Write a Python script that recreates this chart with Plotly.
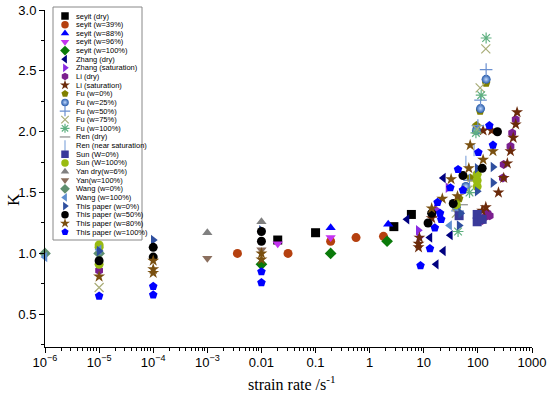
import plotly.graph_objects as go

# ---------------- data ----------------
seyit_dry_x = [0.02, 0.1, 2.8, 5.9]
seyit_dry_y = [1.11, 1.17, 1.22, 1.32]
seyit_39_x = [0.0036, 0.031, 0.19, 0.56, 1.8]
seyit_39_y = [1.00, 1.00, 1.10, 1.13, 1.14]
seyit_88_x = [0.19, 2.2]
seyit_88_y = [1.21, 1.24]
seyit_96_x = [0.02, 0.19]
seyit_96_y = [1.08, 1.13]
seyit_100_x = [0.01, 0.19, 2.1]
seyit_100_y = [0.91, 1.00, 1.10]
zhang_dry_x = [4.9, 13, 17, 23, 23, 31]
zhang_dry_y = [1.28, 1.13, 0.91, 1.02, 1.62, 1.15]
zhang_sat_x = [7.9, 8.2, 17, 28]
zhang_sat_y = [1.19, 1.13, 1.36, 1.54]
li_dry_x = [1e-5, 120, 135, 150, 165, 290, 300, 400, 430, 500]
li_dry_y = [0.86, 1.27, 1.30, 1.33, 1.31, 1.62, 1.73, 1.88, 1.99, 2.10]
li_sat_x = [8, 8, 8.3, 14, 15, 120, 125, 140, 180, 240, 300, 350, 400, 450, 500, 530]
li_sat_y = [1.05, 1.08, 1.13, 1.29, 1.33, 1.35, 2.01, 1.38, 2.01, 1.50, 1.62, 1.74, 1.84, 1.95, 2.06, 2.16]
fu_0_x = [45, 72, 94, 110, 142]
fu_0_y = [1.45, 1.62, 2.05, 2.17, 2.40]
fu_25_x = [40, 60, 94, 112, 142]
fu_25_y = [1.38, 1.55, 2.01, 2.19, 2.43]
fu_50_x = [42, 70, 100, 112, 142]
fu_50_y = [1.35, 1.60, 2.05, 2.26, 2.51]
fu_75_x = [1e-5, 40, 65, 96, 110, 140]
fu_75_y = [0.72, 1.33, 1.52, 2.02, 2.36, 2.68]
fu_100_x = [43, 70, 92, 115, 142]
fu_100_y = [1.18, 1.50, 1.99, 2.30, 2.77]
ren_dry_x = [50, 80]
ren_dry_y = [1.40, 1.60]
ren_sat_x = [60, 85]
ren_sat_y = [1.75, 1.85]
sun_0_x = [45, 97, 97, 120]
sun_0_y = [1.31, 1.26, 1.32, 1.28]
sun_100_x = [1e-5, 1e-5, 1e-5, 40, 97, 97, 97]
sun_100_y = [1.07, 1.05, 0.91, 1.40, 1.55, 1.60, 1.65]
yan_dry_x = [1e-3, 0.01]
yan_dry_y = [1.17, 1.26]
yan_100_x = [1e-3, 0.01]
yan_100_y = [0.96, 1.03]
wang_0_x = [1e-6, 1e-5]
wang_0_y = [1.00, 1.00]
wang_100_x = [1e-6, 1e-5, 30]
wang_100_y = [0.97, 1.03, 1.23]
paper_0_x = [1e-5, 1e-4, 0.01, 45, 48, 97, 97, 190, 190]
paper_0_y = [1.02, 1.11, 1.19, 1.23, 1.33, 1.51, 1.70, 1.58, 1.71]
paper_50_x = [1e-5, 1e-4, 1e-4, 0.01, 0.01, 12, 14, 35, 53, 120, 230]
paper_50_y = [0.94, 1.05, 0.97, 1.18, 1.10, 1.25, 1.33, 1.41, 1.64, 1.70, 2.00]
paper_80_x = [1e-5, 1e-4, 1e-4, 1e-4, 0.01, 0.01, 14, 22, 32, 42, 68, 72, 125, 190]
paper_80_y = [0.81, 0.94, 0.87, 0.84, 1.00, 0.95, 1.37, 1.45, 1.61, 1.47, 1.70, 1.89, 1.77, 1.84]
paper_100_x = [1e-5, 1e-4, 1e-4, 0.01, 0.01, 8.7, 13, 16, 18, 20, 21, 31, 43, 53, 102, 163, 190]
paper_100_y = [0.65, 0.73, 0.66, 0.85, 0.76, 0.90, 1.04, 1.21, 1.42, 1.33, 1.28, 1.54, 1.69, 1.52, 1.83, 2.05, 1.89]

series_names = [
    "seyit (dry)", "seyit (w=39%)", "seyit (w=88%)", "seyit (w=96%)", "seyit (w=100%)",
    "Zhang (dry)", "Zhang (saturation)", "Li (dry)", "Li (saturation)",
    "Fu (w=0%)", "Fu (w=25%)", "Fu (w=50%)", "Fu (w=75%)", "Fu (w=100%)",
    "Ren (dry)", "Ren (near saturation)", "Sun (W=0%)", "Sun (W=100%)",
    "Yan dry(w=6%)", "Yan(w=100%)", "Wang (w=0%)", "Wang (w=100%)",
    "This paper (w=0%)", "This paper (w=50%)", "This paper (w=80%)", "This paper (w=100%)",
]
series_x = [seyit_dry_x, seyit_39_x, seyit_88_x, seyit_96_x, seyit_100_x,
            zhang_dry_x, zhang_sat_x, li_dry_x, li_sat_x,
            fu_0_x, fu_25_x, fu_50_x, fu_75_x, fu_100_x,
            ren_dry_x, ren_sat_x, sun_0_x, sun_100_x,
            yan_dry_x, yan_100_x, wang_0_x, wang_100_x,
            paper_0_x, paper_50_x, paper_80_x, paper_100_x]
series_y = [seyit_dry_y, seyit_39_y, seyit_88_y, seyit_96_y, seyit_100_y,
            zhang_dry_y, zhang_sat_y, li_dry_y, li_sat_y,
            fu_0_y, fu_25_y, fu_50_y, fu_75_y, fu_100_y,
            ren_dry_y, ren_sat_y, sun_0_y, sun_100_y,
            yan_dry_y, yan_100_y, wang_0_y, wang_100_y,
            paper_0_y, paper_50_y, paper_80_y, paper_100_y]

# ---------------- styles ----------------
symbols = ["square", "circle", "triangle-up", "triangle-down", "diamond",
           "triangle-left", "triangle-right", "hexagon", "star",
           "pentagon", "circle", "cross-thin-open", "x-thin-open", "asterisk-open",
           "line-ew-open", "line-ns-open", "square", "circle",
           "triangle-up", "triangle-down", "diamond", "triangle-left",
           "triangle-right", "circle", "star", "pentagon"]
colors = ["#000000", "#B5400F", "#0000FF", "#C433F0", "#0A7A0A",
          "#000080", "#8A2BE2", "#7B1F8F", "#6B2A0A",
          "#808000", "#2458A8", "#6A8FD0", "#A9AD78", "#5FB080",
          "#8C8C8C", "#88AADD", "#3A3A9A", "#99BB11",
          "#808080", "#8B6F5E", "#5F8F6F", "#5F8FD0",
          "#2F4F9F", "#000000", "#7A5010", "#0000FF"]
open_sym = {"cross-thin-open", "x-thin-open", "asterisk-open", "line-ew-open", "line-ns-open"}

FONT = "Liberation Sans, Arial, sans-serif"
SERIF = "Liberation Serif, Times New Roman, serif"

fig = go.Figure()

def marker_for(i, size):
    m = dict(symbol=symbols[i], size=size, color=colors[i])
    if symbols[i] in open_sym:
        m["line"] = dict(color=colors[i], width=1.2)
    else:
        m["line"] = dict(width=0)
    if series_names[i] == "Fu (w=25%)":
        m["gradient"] = dict(type="radial", color="#BFD8FF")
    return m

for i, name in enumerate(series_names):
    fig.add_trace(go.Scatter(
        x=series_x[i], y=series_y[i], mode="markers", name=name,
        marker=marker_for(i, 9), cliponaxis=False, showlegend=False,
    ))

# ---------------- custom legend (on an overlay axis, index based) ----------------
for i, name in enumerate(series_names):
    fig.add_trace(go.Scatter(
        x=[20], y=[i], mode="markers", xaxis="x2", yaxis="y2",
        marker=marker_for(i, 7.5), showlegend=False, hoverinfo="skip", cliponaxis=False,
    ))
    fig.add_annotation(x=29, y=i, xref="x2", yref="y2", text=name, showarrow=False,
                       xanchor="left", yanchor="middle",
                       font=dict(family=FONT, size=7.5, color="#000000"))

# plot area: 45..532 px wide (487), 10..347 px high (337)
fig.add_shape(type="rect", xref="paper", yref="paper",
              x0=(53 - 45) / 487, x1=(142 - 45) / 487,
              y0=(347 - 240) / 337, y1=(347 - 7) / 337,
              line=dict(color="#888888", width=1), fillcolor="white", layer="below")

# ---------------- axes ----------------
xtickvals = [1e-6, 1e-5, 1e-4, 1e-3, 0.01, 0.1, 1, 10, 100, 1000]
xticktext = ["10<sup>\u22126</sup>", "10<sup>\u22125</sup>", "10<sup>\u22124</sup>", "10<sup>\u22123</sup>",
             "0.01", "0.1", "1", "10", "100", "1000"]
minor_vals = [m * 10.0 ** e for e in range(-6, 3) for m in range(2, 10)]

fig.update_layout(
    template="none",
    width=550, height=397,
    margin=dict(l=45, r=18, t=10, b=50, autoexpand=False),
    plot_bgcolor="white", paper_bgcolor="white",
    showlegend=False,
    xaxis=dict(type="log", range=[-6, 3], tickvals=xtickvals, ticktext=xticktext, automargin=False,
               ticks="outside", ticklen=5, tickcolor="black", tickwidth=1, ticklabelstandoff=-2,
               showline=True, linecolor="black", linewidth=1, showgrid=False, zeroline=False,
               tickfont=dict(family=FONT, size=13, color="black"),
               minor=dict(tickvals=minor_vals, ticks="outside", ticklen=3, tickcolor="black",
                          tickwidth=1, showgrid=False)),
    yaxis=dict(range=[0.231, 3.0], tickvals=[0.5, 1.0, 1.5, 2.0, 2.5, 3.0], tickformat=".1f",
               automargin=False,
               ticks="outside", ticklen=5, tickcolor="black", tickwidth=1,
               showline=True, linecolor="black", linewidth=1, showgrid=False, zeroline=False,
               tickfont=dict(family=FONT, size=13, color="black"),
               minor=dict(dtick=0.25, tick0=0.25, ticks="outside", ticklen=3, tickcolor="black",
                          tickwidth=1, showgrid=False)),
    xaxis2=dict(domain=[0, 1], range=[0, 487], visible=False, overlaying="x", anchor="y2",
                fixedrange=True, automargin=False),
    yaxis2=dict(domain=[0, 1], range=[(347 - 16) / 8.64, (10 - 16) / 8.64], visible=False,
                overlaying="y", anchor="x2", fixedrange=True, automargin=False),
)

fig.add_annotation(text="K", xref="paper", yref="paper", x=(14 - 45) / 487, y=(347 - 200) / 337,
                   xanchor="center", yanchor="middle",
                   showarrow=False, textangle=-90, font=dict(family=SERIF, size=17, color="black"))
fig.add_annotation(text="strain rate /s<sup>-1</sup>", xref="paper", yref="paper",
                   x=(292 - 45) / 487, y=(347 - 383) / 337, xanchor="center", yanchor="middle",
                   showarrow=False, font=dict(family=SERIF, size=16, color="black"))

fig.write_html("out.html", config={"displayModeBar": False},
               post_script="document.body.style.margin='0';document.body.style.padding='0';")
